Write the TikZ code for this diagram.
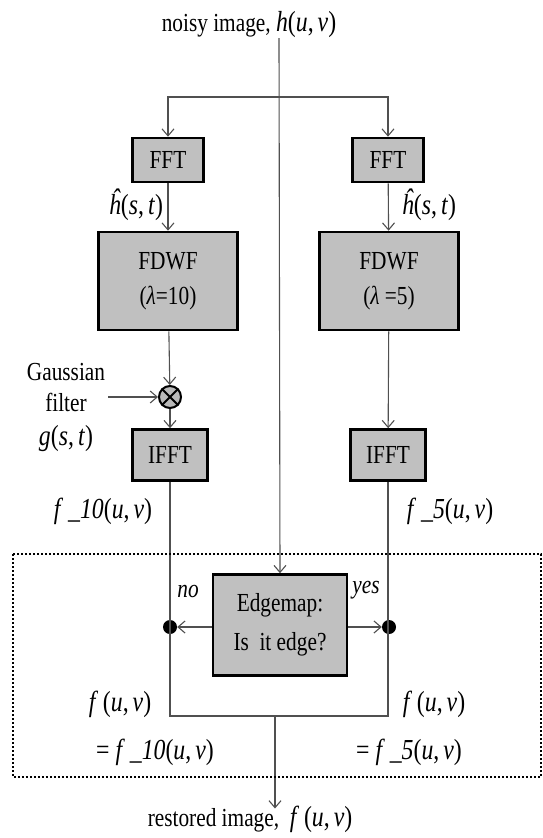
\documentclass[tikz,border=0pt]{standalone}
\usepackage{fontspec}
\setmainfont{Liberation Serif}[FakeStretch=0.82]
\usetikzlibrary{arrows.meta, positioning}
\definecolor{boxgray}{HTML}{C0C0C0}
\definecolor{wiregray}{HTML}{505050}
\newcommand{\vi}[1]{\textit{#1}}
\newcommand{\mth}[1]{{\fontsize{29}{34}\selectfont #1}}
\newcommand{\uv}{(\vi{u},\kern4pt\vi{v})}
\newcommand{\st}{(\vi{s},\kern4pt\vi{t})}

\begin{document}
\begin{tikzpicture}[x=1pt, y=-1pt,
  box/.style={rectangle, draw=black, fill=boxgray, line width=2.6pt, align=center, inner sep=0pt, font=\fontsize{26}{35}\selectfont},
  wire/.style={draw=wiregray, line width=1.1pt},
  arrow/.style={wire, -{Straight Barb[length=7pt, width=12pt]}},
  lbl/.style={inner sep=0pt, align=center, font=\fontsize{26}{31}\selectfont},
  mlbl/.style={inner sep=0pt, font=\fontsize{29}{34}\selectfont},
  dot/.style={circle, fill=black, minimum size=14pt, inner sep=0pt}
]
  \useasboundingbox (0,0) rectangle (543,838);

  % Input and output
  \node[lbl] (noisy) at (249,25) {noisy image, \mth{\vi{h}\uv}};
  \node[lbl] (restored) at (250,819) {restored image, \ \mth{\vi{f}\,\uv}};
  \coordinate (src) at (279,38);
  \coordinate (split) at (279,97);
  \coordinate (join) at (275,716);

  % Boxes
  \node[box, minimum width=71pt, minimum height=44pt] (fftL) at (168,160) {FFT};
  \node[box, minimum width=71pt, minimum height=44pt] (fftR) at (388,160) {FFT};
  \node[box, minimum width=139pt, minimum height=98pt] (fdwfL) at (168,281) {FDWF\\(\textit{λ}=10)};
  \node[box, minimum width=139pt, minimum height=98pt] (fdwfR) at (389,281) {FDWF\\(\textit{λ} =5)};
  \node[box, minimum width=75pt, minimum height=51pt] (ifftL) at (170,455) {IFFT};
  \node[box, minimum width=75pt, minimum height=51pt] (ifftR) at (388,455) {IFFT};
  \node[box, minimum width=134pt, minimum height=101pt, font=\fontsize{26}{39}\selectfont] (edge) at (280,625) {Edgemap:\\Is \ it edge?};

  % Multiplier
  \node[circle, draw=black, fill=gray!55, line width=2pt, minimum size=22pt, inner sep=0pt] (mul) at (170,397) {};
  \draw[line width=1.8pt] (mul.45) -- (mul.225) (mul.135) -- (mul.315);
  \node[lbl] (gauss) at (66,407) {Gaussian\\filter\\[3pt]\mth{\vi{g}\st}};
  \coordinate (gin) at (108,397);

  % Decision dots
  \node[dot] (dotL) at (170,627) {};
  \node[dot] (dotR) at (389,627) {};

  % Labels
  \node[mlbl] (hL) at (136,205) {\vi{\^h}\st};
  \node[mlbl] (hR) at (429,205) {\vi{\^h}\st};
  \node[mlbl] (f10) at (103,511) {\vi{f}\kern5pt\vi{\_10}\uv};
  \node[mlbl] (f5) at (450,511) {\vi{f}\kern5pt\vi{\_5}\uv};
  \node[lbl] (no) at (188,591) {\vi{no}};
  \node[lbl] (yes) at (366,590) {\vi{yes}};
  \node[mlbl] (outL1) at (120,704) {\vi{f}\,\uv};
  \node[mlbl] (outL2) at (155,752) {= \vi{f}\kern5pt\vi{\_10}\uv};
  \node[mlbl] (outR1) at (434,704) {\vi{f}\,\uv};
  \node[mlbl] (outR2) at (409,752) {= \vi{f}\kern5pt\vi{\_5}\uv};

  % Connectors
  \draw[arrow] (src) -- (edge.north);
  \draw[arrow] (split) -| (fftL.north);
  \draw[arrow] (split) -| (fftR.north);
  \draw[arrow] (fftL) -- (fdwfL);
  \draw[arrow] (fftR) -- (fdwfR);
  \draw[arrow] (fdwfL) -- (mul);
  \draw[arrow] (gin) -- (mul);
  \draw[arrow] (mul) -- (ifftL);
  \draw[arrow] (fdwfR) -- (ifftR);
  \draw[wire] (ifftL.south) |- (join) -| (ifftR.south);
  \draw[arrow] (join) -- ([yshift=-3pt]join |- restored.north);
  \draw[arrow] (edge.west |- dotL) -- (dotL);
  \draw[arrow] (edge.east |- dotR) -- (dotR);

  % Decision region
  \draw[line width=2.4pt, dash pattern=on 2.2pt off 1.8pt] (13,554) rectangle (541,777);
\end{tikzpicture}
\end{document}
